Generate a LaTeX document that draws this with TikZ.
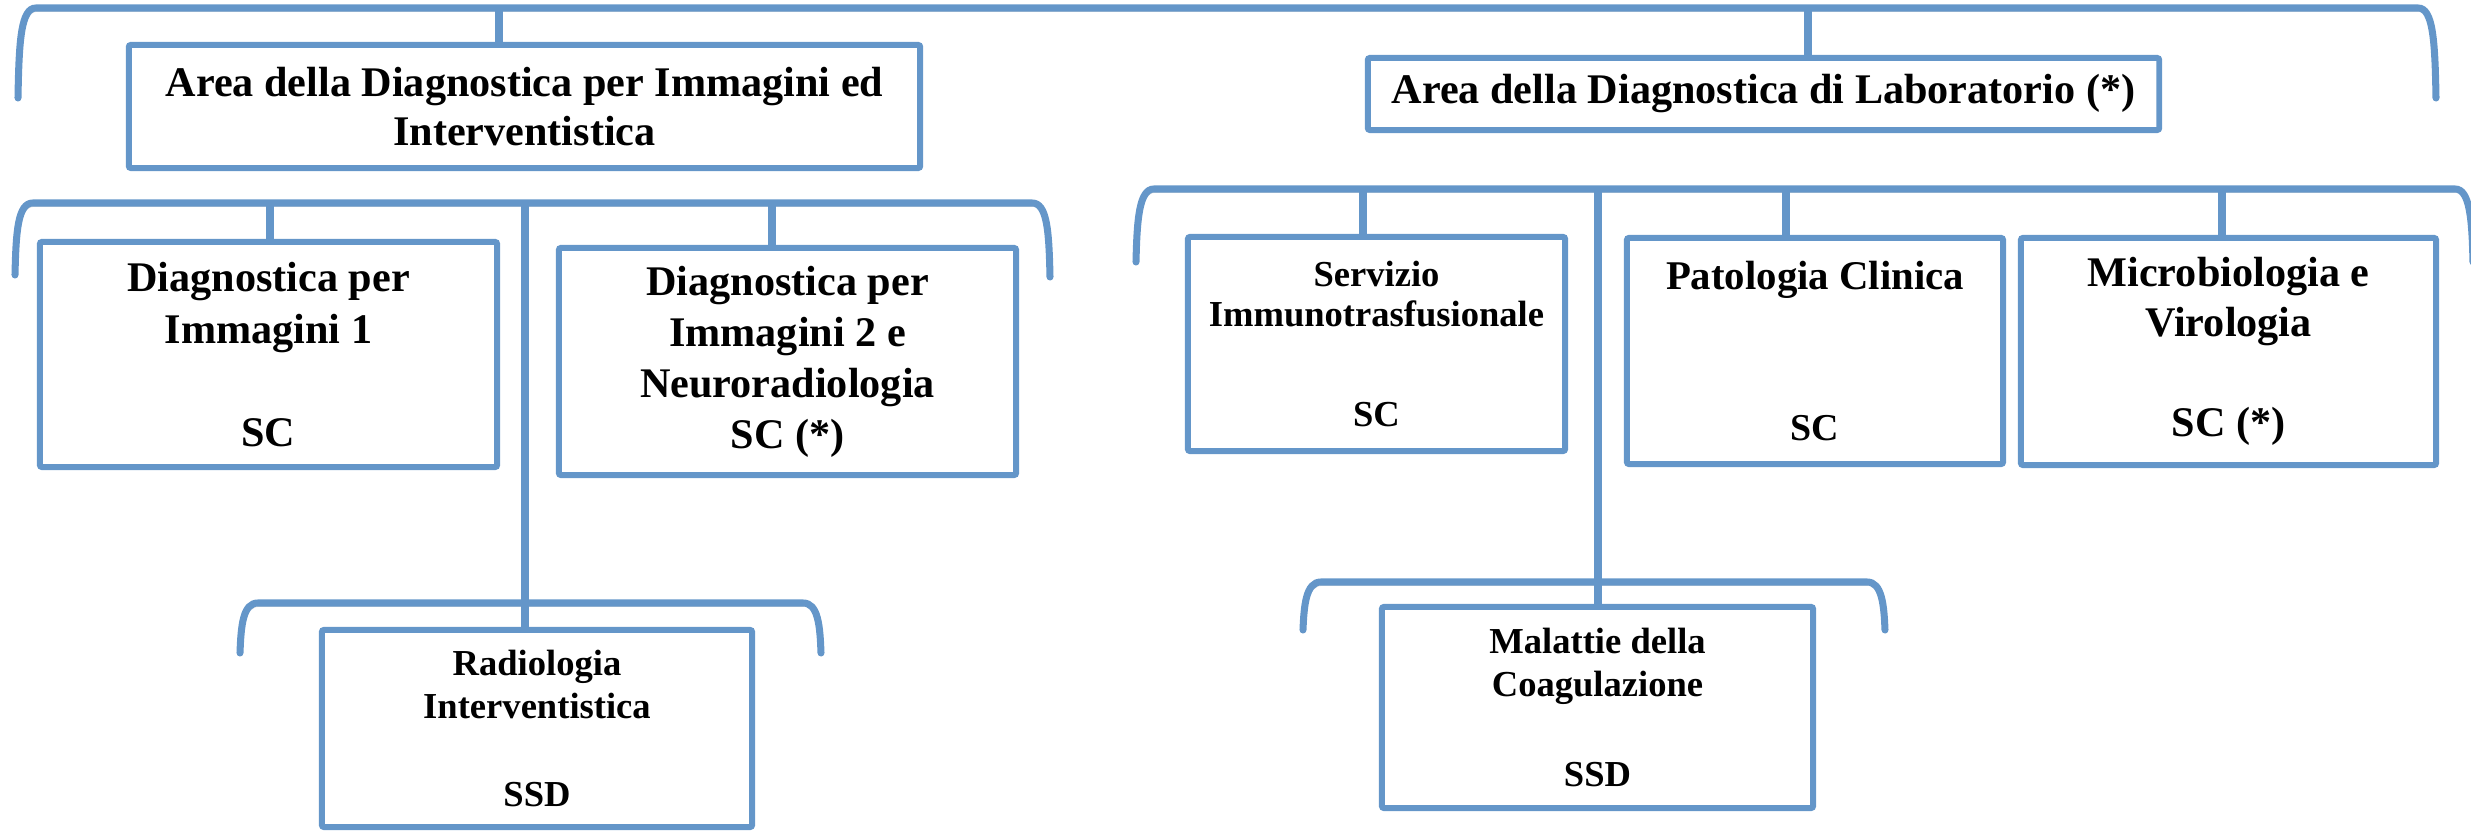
\documentclass[tikz,border=0pt]{standalone}
\usepackage{fontspec}
\setmainfont{Liberation Serif}
\definecolor{sa}{RGB}{100,150,201}
\newcommand\fbig{\fontsize{12}{14.4}\selectfont\bfseries}
\begin{document}
\begin{tikzpicture}[x=0.01cm,y=-0.01cm,
  box/.style={draw=sa, line width=1.7pt, fill=white, inner sep=0pt, outer sep=0pt,
    rounded corners=0.6pt, align=center, text=black},
  brk/.style={draw=sa, line width=2pt, line cap=round,
    preaction={draw=black!40, opacity=0.35, transform canvas={xshift=0.3pt,yshift=-0.9pt}}},
  stub/.style={draw=sa, line width=2pt}]
\useasboundingbox (0,0) rectangle (2471,831);

% ---------- boxes ----------
\node[box, minimum width=7.91cm, minimum height=1.23cm, font=\fbig] (a1) at (524.5,106.5)
  {Area della Diagnostica per Immagini ed\\[-0.5pt]Interventistica};
\node[box, minimum width=7.91cm, minimum height=0.72cm, font=\fbig] (a2) at (1763.5,94)
  {Area della Diagnostica di Laboratorio (*)};

\node[box, minimum width=4.57cm, minimum height=2.25cm, font=\fontsize{12}{14.8}\selectfont\bfseries] (b1) at (268.5,354.5)
  {Diagnostica per\\Immagini 1\\[14.5pt]SC};
\node[box, minimum width=4.57cm, minimum height=2.27cm, font=\fontsize{12}{14.5}\selectfont\bfseries] (b2) at (787.5,361.5)
  {Diagnostica per\\Immagini 2 e\\Neuroradiologia\\SC (*)};

\node[box, minimum width=3.77cm, minimum height=2.14cm, font=\fontsize{10.4}{11.4}\selectfont\bfseries] (s) at (1376.5,344)
  {Servizio\\Immunotrasfusionale\\[17pt]SC};
\node[box, minimum width=3.76cm, minimum height=2.26cm, font=\fontsize{11.6}{13}\selectfont\bfseries] (p) at (1815,351)
  {Patologia Clinica\\[29.7pt]{\fontsize{10.8}{13}\selectfont SC}};
\node[box, minimum width=4.15cm, minimum height=2.27cm, font=\fontsize{12}{14.2}\selectfont\bfseries] (m) at (2228.5,351.5)
  {Microbiologia e\\Virologia\\[14.2pt]SC (*)};

\node[box, minimum width=4.30cm, minimum height=1.97cm, font=\fontsize{10.4}{12.2}\selectfont\bfseries] (r) at (537,728.5)
  {Radiologia\\Interventistica\\[12.8pt]SSD};
\node[box, minimum width=4.31cm, minimum height=2.01cm, font=\fontsize{10.4}{12.5}\selectfont\bfseries] (mc) at (1597.5,707.5)
  {Malattie della\\Coagulazione\\[13.1pt]SSD};

% ---------- bracket coordinates ----------
\coordinate (t0) at (18,98);   \coordinate (t1) at (2436,98);
\coordinate (l0) at (15,275);  \coordinate (l1) at (1050,277);
\coordinate (r0) at (1136,262); \coordinate (r1) at (2473,262);
\coordinate (ll0) at (240,653); \coordinate (ll1) at (821,653);
\coordinate (rr0) at (1303,630); \coordinate (rr1) at (1885,630);

% top bracket
\draw[brk] (t0) .. controls (19,40) and (21,8) .. (36,8) -- (2418,8)
  .. controls (2433,8) and (2435,40) .. (t1);
% level 2 left
\draw[brk] (l0) .. controls (16,230) and (18,203) .. (33,203) -- (1032,203)
  .. controls (1047,203) and (1049,230) .. (l1);
% level 2 right
\draw[brk] (r0) .. controls (1137,220) and (1139,189) .. (1154,189) -- (2455,189)
  .. controls (2470,189) and (2472,220) .. (r1);
% level 3 left
\draw[brk] (ll0) .. controls (241,625) and (243,603) .. (258,603) -- (803,603)
  .. controls (818,603) and (820,625) .. (ll1);
% level 3 right
\draw[brk] (rr0) .. controls (1304,605) and (1306,582) .. (1321,582) -- (1867,582)
  .. controls (1882,582) and (1884,605) .. (rr1);

% ---------- connectors ----------
\coordinate (ca1) at (499,8);
\coordinate (ca2) at (1808,8);
\coordinate (cb1) at (270,203);
\coordinate (cb2) at (772,203);
\coordinate (cr)  at (525,203);
\coordinate (cs)  at (1363,189);
\coordinate (cp)  at (1786,189);
\coordinate (cm)  at (2222,189);
\coordinate (cmc) at (1598,189);

\draw[stub] (ca1) -- (ca1 |- a1.north);
\draw[stub] (ca2) -- (ca2 |- a2.north);
\draw[stub] (cb1) -- (cb1 |- b1.north);
\draw[stub] (cb2) -- (cb2 |- b2.north);
\draw[stub] (cr)  -- (cr |- r.north);
\draw[stub] (cs)  -- (cs |- s.north);
\draw[stub] (cp)  -- (cp |- p.north);
\draw[stub] (cm)  -- (cm |- m.north);
\draw[stub] (cmc) -- (cmc |- mc.north);
\end{tikzpicture}
\end{document}
